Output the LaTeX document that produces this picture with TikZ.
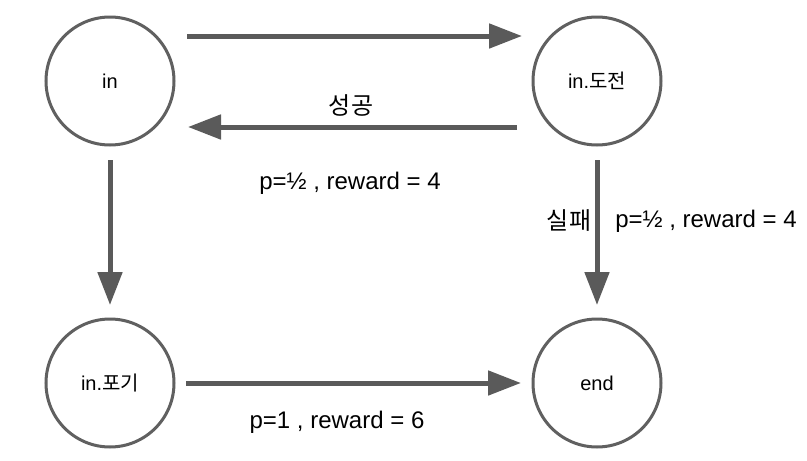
\documentclass[tikz,border=0pt]{standalone}
\usepackage{fontspec}
\setmainfont{Liberation Sans}
\newfontfamily\kr{Noto Sans CJK KR}
\usetikzlibrary{arrows.meta}
\definecolor{linegray}{RGB}{90,90,90}
\definecolor{circgray}{RGB}{96,96,96}
\begin{document}
\begin{tikzpicture}[x=1pt,y=-1pt,
  state/.style={circle,draw=circgray,line width=3pt,minimum size=128pt,inner sep=0pt,font=\fontsize{20}{24}\selectfont},
  arr/.style={draw=linegray,line width=5pt,-{Triangle[length=33pt,width=24pt]},color=linegray},
  lab/.style={font=\fontsize{24}{28}\selectfont,inner sep=0pt}]
\useasboundingbox[fill=white] (0,0) rectangle (807,461);
\node[state] (in) at (110,81) {in};
\node[state] (do) at (597,81) {in.{\kr 도전}};
\node[state] (po) at (110,383) {in.{\kr 포기}};
\node[state] (end) at (597,383) {end};
\draw[arr] ([shift={(77,-45)}]in.center) -- ([shift={(-75,-45)}]do.center);
\draw[arr] ([shift={(-80,46)}]do.center) -- ([shift={(78,46)}]in.center);
\draw[arr] ([shift={(0,79)}]in.center) -- ([shift={(0,-78)}]po.center);
\draw[arr] ([shift={(0,79)}]do.center) -- ([shift={(0,-78)}]end.center);
\draw[arr] ([shift={(76,0)}]po.center) -- ([shift={(-76,0)}]end.center);
\node[lab] (l1) at (351,105) {\kr 성공};
\node[lab] (l2) at (350,183) {p=½ , reward = 4};
\node[lab] (l3) at (569,221) {\kr 실패};
\node[lab] (l4) at (706,221) {p=½ , reward = 4};
\node[lab] (l5) at (337,422) {p=1 , reward = 6};
\end{tikzpicture}
\end{document}
